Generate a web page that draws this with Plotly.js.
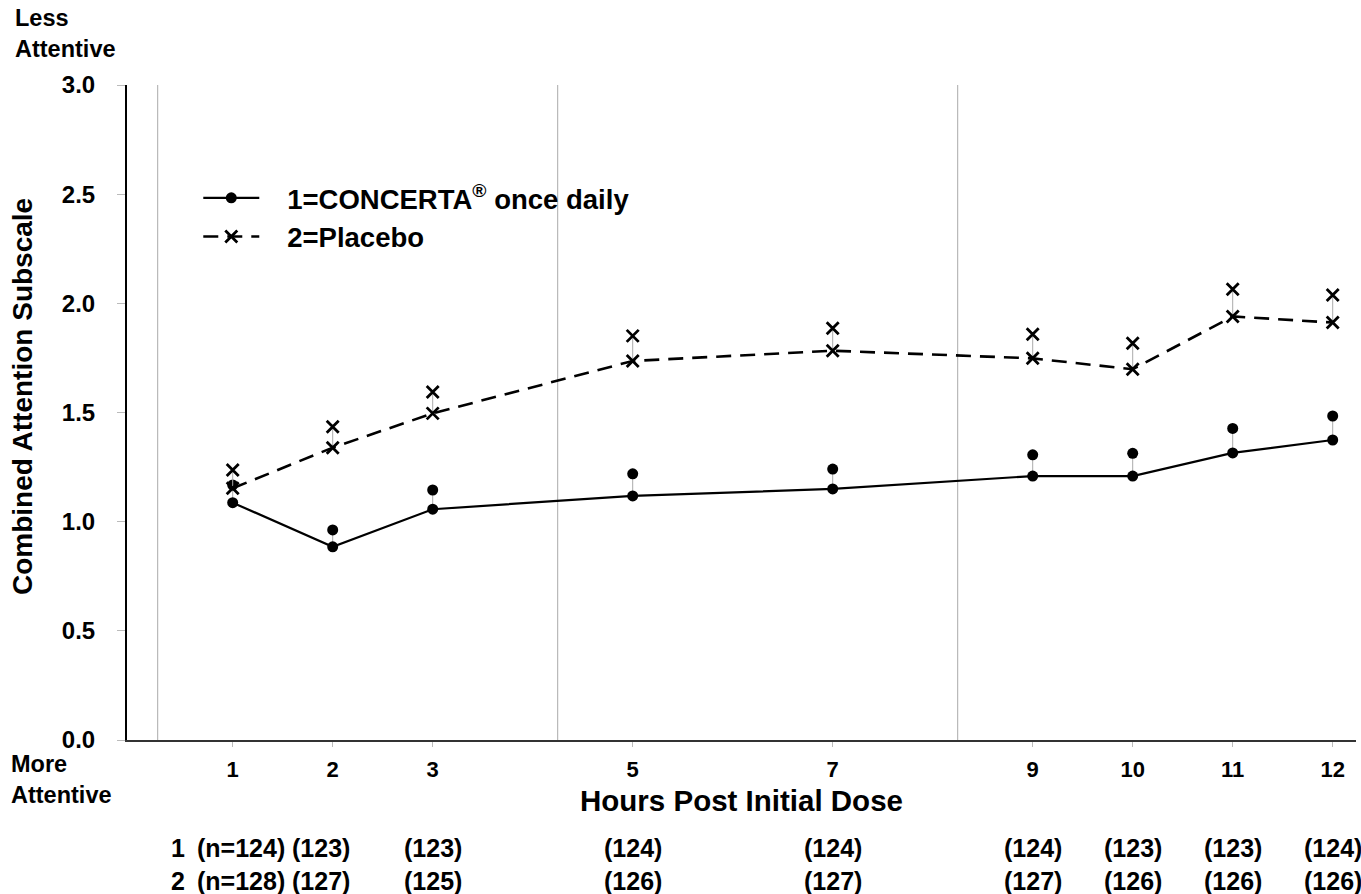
<!DOCTYPE html>
<html>
<head>
<meta charset="utf-8">
<script src="https://cdn.plot.ly/plotly-3.0.1.min.js"></script>
<style>
html,body{margin:0;padding:0;background:#fff;}
#chart{width:1361px;height:894px;}
</style>
</head>
<body>
<div id="chart"></div>
<script>
// ---- data ----
const hours = [1, 2, 3, 5, 7, 9, 10, 11, 12];
const hourLabels = ['1', '2', '3', '5', '7', '9', '10', '11', '12'];
const concertaMean  = [1.087, 0.885, 1.057, 1.118, 1.150, 1.209, 1.209, 1.315, 1.374];
const concertaUpper = [1.168, 0.962, 1.145, 1.219, 1.241, 1.306, 1.313, 1.427, 1.484];
const placeboMean   = [1.153, 1.339, 1.496, 1.736, 1.783, 1.748, 1.698, 1.940, 1.912];
const placeboUpper  = [1.237, 1.435, 1.594, 1.851, 1.886, 1.858, 1.817, 2.064, 2.038];
const nConcerta = ['(n=124)', '(123)', '(123)', '(124)', '(124)', '(124)', '(123)', '(123)', '(124)'];
const nPlacebo  = ['(n=128)', '(127)', '(125)', '(126)', '(127)', '(127)', '(126)', '(126)', '(126)'];
const periodBreaks = [0.25, 4.25, 8.25];
const concertaName = '\u00a0\u00a0\u00a01=CONCERTA<sup>®</sup> once daily';
const placeboName = '\u00a0\u00a0\u00a02=Placebo';

// ---- styling ----
const FONT = 'Liberation Sans, Arial, Helvetica, sans-serif';
const bold = (size) => ({family: FONT, size: size, color: '#000', weight: 'bold'});

const diffC = concertaUpper.map((u, i) => u - concertaMean[i]);
const diffP = placeboUpper.map((u, i) => u - placeboMean[i]);
const zeros = hours.map(() => 0);

const traces = [
  {
    x: hours, y: concertaUpper, type: 'scatter', mode: 'markers', showlegend: false,
    marker: {symbol: 'circle', size: 11, color: '#000'},
    error_y: {type: 'data', symmetric: false, array: zeros, arrayminus: diffC,
              color: '#aaa', thickness: 1, width: 0},
    hoverinfo: 'skip'
  },
  {
    x: hours, y: placeboUpper, type: 'scatter', mode: 'markers', showlegend: false,
    marker: {symbol: 'x-thin', size: 12, color: '#000', line: {width: 2.8, color: '#000'}},
    error_y: {type: 'data', symmetric: false, array: zeros, arrayminus: diffP,
              color: '#aaa', thickness: 1, width: 0},
    hoverinfo: 'skip'
  },
  {
    x: hours, y: concertaMean, type: 'scatter', mode: 'lines+markers', name: concertaName,
    line: {color: '#000', width: 2.2},
    marker: {symbol: 'circle', size: 11, color: '#000'}
  },
  {
    x: hours, y: placeboMean, type: 'scatter', mode: 'lines+markers', name: placeboName,
    line: {color: '#000', width: 2.6, dash: '15px,9px'},
    marker: {symbol: 'x-thin', size: 12, color: '#000', line: {width: 2.8, color: '#000'}}
  }
];

const shapes = periodBreaks.map(b => ({
  type: 'line', xref: 'x', yref: 'y', x0: b, x1: b, y0: 0, y1: 3,
  line: {color: '#aaa', width: 1}, layer: 'below'
}));

const NF = 25;
const annotations = [];
hours.forEach((h, i) => {
  const shift = i === 0 ? 8 : (i === 1 ? -12 : 0);
  annotations.push({x: h, xref: 'x', y: -0.165, yref: 'paper', yanchor: 'middle', xanchor: 'center',
    text: nConcerta[i], showarrow: false, xshift: shift, font: bold(NF)});
  annotations.push({x: h, xref: 'x', y: -0.215, yref: 'paper', yanchor: 'middle', xanchor: 'center',
    text: nPlacebo[i], showarrow: false, xshift: shift, font: bold(NF)});
});
annotations.push({x: 0.45, xref: 'x', y: -0.165, yref: 'paper', yanchor: 'middle', xanchor: 'center',
  text: '1', showarrow: false, font: bold(NF)});
annotations.push({x: 0.45, xref: 'x', y: -0.215, yref: 'paper', yanchor: 'middle', xanchor: 'center',
  text: '2', showarrow: false, font: bold(NF)});
// axis end labels
annotations.push({x: -0.093, xref: 'paper', y: 1.078, yref: 'paper', xanchor: 'left', yanchor: 'middle',
  align: 'left', text: 'Less<br>Attentive', showarrow: false, font: bold(23.5)});
annotations.push({x: -0.096, xref: 'paper', y: -0.060, yref: 'paper', xanchor: 'left', yanchor: 'middle',
  align: 'left', text: 'More<br>Attentive', showarrow: false, font: bold(23.5)});
// y-axis title (placed slightly above plot centre, as in the reference)
annotations.push({x: -0.0855, xref: 'paper', y: 0.525, yref: 'paper', xanchor: 'center', yanchor: 'middle',
  text: 'Combined Attention Subscale', textangle: -90, showarrow: false, font: bold(28)});

const layout = {
  width: 1361, height: 894,
  margin: {l: 127, r: 5, t: 85, b: 154},
  paper_bgcolor: '#fff', plot_bgcolor: '#fff',
  showlegend: true,
  legend: {x: 0.058, y: 0.865, xanchor: 'left', yanchor: 'top', font: bold(27.5),
           bgcolor: 'rgba(0,0,0,0)', itemwidth: 56, tracegroupgap: 0},
  xaxis: {
    range: [-0.057, 12.233], tickmode: 'array', tickvals: hours, ticktext: hourLabels,
    showgrid: false, zeroline: false, showline: true, linecolor: '#333', linewidth: 2,
    ticks: 'outside', ticklen: 5, tickcolor: '#bbb', tickwidth: 1,
    tickfont: bold(22), ticklabelstandoff: 4,
    title: {text: 'Hours Post Initial Dose', font: bold(29.5), standoff: 9},
    automargin: false
  },
  yaxis: {
    range: [0, 3], tickmode: 'array', tickvals: [0, 0.5, 1, 1.5, 2, 2.5, 3],
    ticktext: ['0.0', '0.5', '1.0', '1.5', '2.0', '2.5', '3.0'],
    showgrid: false, zeroline: false, showline: true, linecolor: '#000', linewidth: 2,
    ticks: 'outside', ticklen: 8, tickcolor: '#bbb', tickwidth: 1,
    tickfont: bold(24), ticklabelstandoff: 17,
    automargin: false
  },
  shapes: shapes,
  annotations: annotations
};

Plotly.newPlot('chart', traces, layout, {displayModeBar: false, staticPlot: true});
</script>
</body>
</html>
